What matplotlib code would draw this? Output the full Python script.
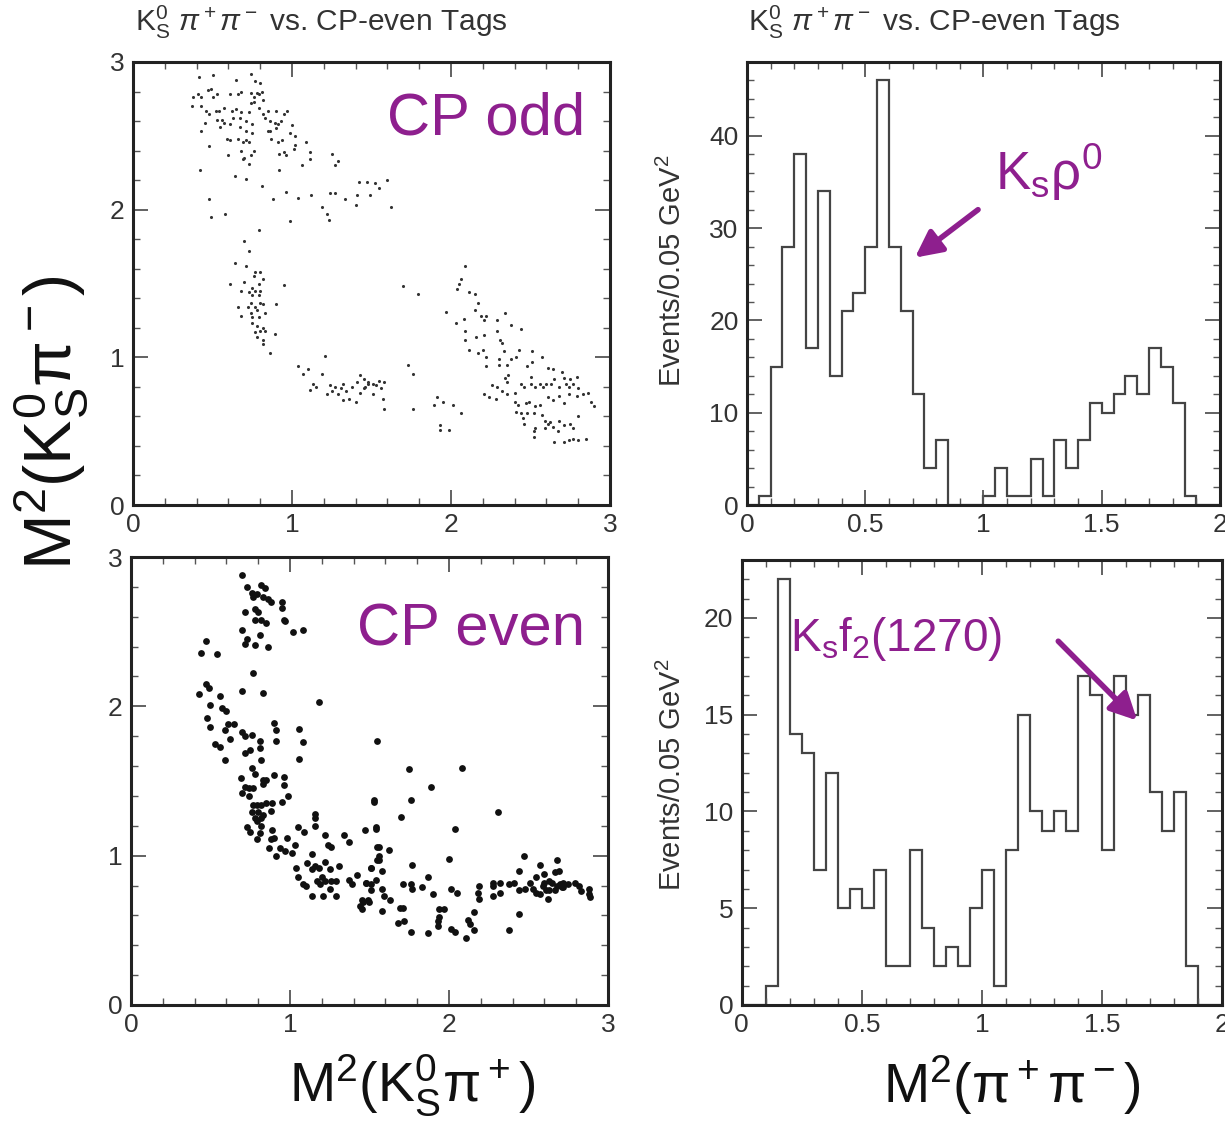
import numpy as np
import matplotlib
matplotlib.use('Agg')
import matplotlib.pyplot as plt
from matplotlib.ticker import MultipleLocator, FuncFormatter

plt.rcParams['font.family'] = ['Liberation Sans', 'DejaVu Sans']
plt.rcParams['mathtext.fontset'] = 'custom'
plt.rcParams['mathtext.rm'] = 'Liberation Sans'
plt.rcParams['mathtext.it'] = 'Liberation Sans:italic'
plt.rcParams['mathtext.bf'] = 'Liberation Sans:bold'

# ---- data ----
# CP odd tags: (M2(Ks pi+), M2(Ks pi-))
cp_odd = np.array([
    (0.415, 2.90), (0.505, 2.91), (0.65, 2.88), (0.74, 2.92), (0.77, 2.87), (0.80, 2.86),
    (0.375, 2.76), (0.41, 2.78), (0.43, 2.76), (0.47, 2.81), (0.49, 2.82), (0.50, 2.76),
    (0.53, 2.78), (0.61, 2.78), (0.66, 2.78), (0.68, 2.80), (0.74, 2.79), (0.76, 2.76),
    (0.78, 2.79), (0.79, 2.78), (0.81, 2.80), (0.82, 2.74), (0.76, 2.73), (0.37, 2.70),
    (0.43, 2.70), (0.46, 2.67), (0.48, 2.65), (0.52, 2.67), (0.54, 2.67), (0.57, 2.69),
    (0.62, 2.67), (0.65, 2.68), (0.68, 2.66), (0.73, 2.66), (0.74, 2.72), (0.79, 2.69),
    (0.82, 2.65), (0.85, 2.67), (0.90, 2.67), (0.95, 2.65), (0.97, 2.67), (0.45, 2.59),
    (0.53, 2.61), (0.56, 2.61), (0.57, 2.59), (0.55, 2.56), (0.63, 2.62), (0.67, 2.62),
    (0.71, 2.60), (0.75, 2.58), (0.83, 2.62), (0.86, 2.60), (0.89, 2.59), (0.91, 2.58),
    (0.93, 2.60), (1.00, 2.57), (0.86, 2.53), (0.90, 2.55), (0.43, 2.53), (0.61, 2.58),
    (0.67, 2.56), (0.71, 2.53), (0.75, 2.52), (0.85, 2.53), (0.99, 2.52), (1.02, 2.50),
    (0.48, 2.43), (0.59, 2.48), (0.61, 2.47), (0.66, 2.48), (0.69, 2.46), (0.71, 2.47),
    (0.73, 2.46), (0.87, 2.48), (0.91, 2.46), (0.94, 2.47), (1.09, 2.46), (1.01, 2.41),
    (1.02, 2.44), (0.60, 2.37), (0.68, 2.40), (0.70, 2.35), (0.74, 2.37), (0.76, 2.40),
    (0.69, 2.34), (0.73, 2.31), (0.92, 2.38), (0.96, 2.37), (0.95, 2.39), (1.11, 2.39),
    (1.11, 2.34), (1.06, 2.30), (1.25, 2.38), (1.29, 2.33), (1.27, 2.30), (0.92, 2.27),
    (0.42, 2.27), (0.64, 2.23), (0.71, 2.21),
    (0.48, 2.07), (0.49, 1.95), (0.58, 1.97), (0.81, 2.16), (0.88, 2.07), (0.96, 2.12),
    (0.99, 1.92), (1.04, 2.08), (1.12, 2.10), (1.19, 2.02), (1.22, 1.97), (1.23, 1.93),
    (1.24, 2.11), (1.27, 2.11), (1.33, 2.07), (1.40, 2.03), (1.41, 2.10), (1.42, 2.19),
    (1.47, 2.19), (1.49, 2.10), (1.52, 2.18), (1.55, 2.15), (1.60, 2.20), (1.62, 2.02),
    (0.79, 1.86), (0.70, 1.79), (0.73, 1.72), (0.64, 1.64), (0.71, 1.62), (0.77, 1.58),
    (0.80, 1.58), (0.76, 1.55), (0.82, 1.53), (0.61, 1.50), (0.70, 1.51), (0.75, 1.47),
    (0.79, 1.50), (0.95, 1.49), (0.68, 1.45), (0.73, 1.44), (0.77, 1.45), (0.80, 1.45),
    (0.75, 1.42), (0.79, 1.42), (0.74, 1.37), (0.80, 1.37), (0.66, 1.34), (0.72, 1.34),
    (0.77, 1.34), (0.82, 1.36), (0.90, 1.36), (0.74, 1.30), (0.78, 1.32), (0.83, 1.30),
    (0.68, 1.28), (0.75, 1.27), (0.79, 1.27), (0.75, 1.23), (0.78, 1.21), (0.82, 1.20),
    (0.77, 1.17), (0.80, 1.18), (0.83, 1.18), (0.89, 1.16), (0.78, 1.14), (0.82, 1.12),
    (0.82, 1.09), (0.86, 1.03),
    (1.21, 1.01), (1.04, 0.94), (1.07, 0.89), (1.10, 0.92), (1.19, 0.89), (1.11, 0.78),
    (1.13, 0.82), (1.15, 0.80), (1.22, 0.75), (1.24, 0.81), (1.25, 0.77), (1.27, 0.80),
    (1.29, 0.75), (1.31, 0.79), (1.32, 0.82), (1.32, 0.71), (1.34, 0.77), (1.36, 0.72),
    (1.38, 0.80), (1.41, 0.83), (1.40, 0.70), (1.43, 0.88), (1.43, 0.76), (1.45, 0.79),
    (1.48, 0.83), (1.51, 0.75), (1.53, 0.81), (1.45, 0.85), (1.48, 0.82), (1.51, 0.82),
    (1.55, 0.84), (1.58, 0.83), (1.56, 0.79), (1.57, 0.72), (1.58, 0.65), (1.46, 0.80),
    (1.70, 1.48), (1.79, 1.43), (1.73, 0.95), (1.76, 0.89), (1.76, 0.65), (1.89, 0.68),
    (1.91, 0.73), (1.95, 0.70), (1.93, 0.54), (1.93, 0.51), (1.99, 0.51), (2.01, 0.68),
    (2.06, 0.62),
    (2.09, 1.62), (2.06, 1.53), (2.05, 1.50), (2.04, 1.46), (2.11, 1.44), (2.15, 1.43),
    (1.97, 1.31), (2.17, 1.37), (2.03, 1.23), (2.08, 1.26), (2.15, 1.32), (2.19, 1.28),
    (2.22, 1.28), (2.21, 1.25), (2.29, 1.25), (2.34, 1.30), (2.38, 1.22), (2.44, 1.19),
    (2.09, 1.18), (2.09, 1.12), (2.16, 1.14), (2.21, 1.15), (2.29, 1.18), (2.31, 1.12),
    (2.32, 1.10), (2.11, 1.05), (2.17, 1.03), (2.20, 1.05), (2.22, 1.00), (2.22, 0.94),
    (2.30, 0.99), (2.33, 1.04), (2.30, 0.95), (2.35, 0.95), (2.38, 0.99), (2.41, 1.00),
    (2.43, 1.05), (2.48, 0.94), (2.51, 1.04), (2.51, 0.97), (2.57, 1.00), (2.61, 0.93),
    (2.64, 0.92), (2.70, 0.90), (2.71, 0.86), (2.75, 0.85), (2.79, 0.87), (2.26, 0.81),
    (2.29, 0.80), (2.34, 0.86), (2.36, 0.88), (2.35, 0.83), (2.32, 0.77), (2.35, 0.75),
    (2.21, 0.75), (2.24, 0.73), (2.28, 0.72), (2.40, 0.76), (2.44, 0.82), (2.46, 0.80),
    (2.50, 0.87), (2.50, 0.82), (2.53, 0.80), (2.56, 0.82), (2.58, 0.80), (2.60, 0.82),
    (2.63, 0.82), (2.65, 0.85), (2.68, 0.80), (2.72, 0.82), (2.74, 0.80), (2.77, 0.82),
    (2.80, 0.79), (2.74, 0.75), (2.79, 0.74), (2.83, 0.75), (2.86, 0.76), (2.88, 0.70),
    (2.90, 0.67), (2.40, 0.70), (2.42, 0.68), (2.47, 0.69), (2.49, 0.70), (2.53, 0.67),
    (2.56, 0.68), (2.61, 0.73), (2.64, 0.71), (2.68, 0.74), (2.71, 0.69), (2.41, 0.63),
    (2.44, 0.62), (2.48, 0.62), (2.52, 0.62), (2.45, 0.59), (2.46, 0.55), (2.52, 0.50),
    (2.52, 0.46), (2.53, 0.52), (2.57, 0.61), (2.59, 0.57), (2.61, 0.55), (2.59, 0.52),
    (2.62, 0.56), (2.64, 0.53), (2.67, 0.50), (2.68, 0.57), (2.71, 0.54), (2.75, 0.55),
    (2.77, 0.52), (2.65, 0.43), (2.71, 0.43), (2.74, 0.44), (2.77, 0.45), (2.80, 0.44),
    (2.85, 0.45), (2.80, 0.60),
])

# CP even tags
cp_even = np.array([
    (0.70, 2.88), (0.73, 2.80), (0.76, 2.76), (0.79, 2.75), (0.77, 2.73), (0.82, 2.81),
    (0.84, 2.79), (0.83, 2.73), (0.86, 2.72), (0.88, 2.70), (0.95, 2.70), (0.95, 2.66),
    (0.78, 2.65), (0.80, 2.63), (0.72, 2.63), (0.78, 2.58), (0.82, 2.58), (0.85, 2.56),
    (0.96, 2.58), (0.97, 2.57), (1.02, 2.50), (1.08, 2.51), (0.70, 2.51), (0.73, 2.45),
    (0.72, 2.42), (0.78, 2.41), (0.81, 2.48), (0.86, 2.40), (0.47, 2.44), (0.44, 2.36),
    (0.54, 2.35), (0.77, 2.22), (0.47, 2.15), (0.49, 2.12), (0.43, 2.08), (0.56, 2.07),
    (0.70, 2.10), (0.83, 2.09), (0.50, 2.01), (0.57, 1.99), (0.60, 1.97), (1.18, 2.03),
    (0.48, 1.92), (0.50, 1.86), (0.61, 1.88), (0.65, 1.88), (0.59, 1.84), (0.62, 1.78),
    (0.53, 1.75), (0.56, 1.73), (0.59, 1.64), (0.70, 1.83), (0.72, 1.80), (0.76, 1.81),
    (0.81, 1.77), (0.90, 1.89), (0.91, 1.84), (0.91, 1.77), (1.06, 1.85), (1.08, 1.76),
    (1.06, 1.65), (0.72, 1.69), (0.75, 1.71), (0.81, 1.72), (0.82, 1.64), (0.76, 1.59),
    (0.78, 1.55), (0.69, 1.52), (0.72, 1.46), (0.74, 1.45), (0.70, 1.42), (0.74, 1.40),
    (0.77, 1.45), (0.83, 1.51), (0.85, 1.51), (0.83, 1.48), (0.90, 1.54), (0.96, 1.53),
    (0.96, 1.47), (0.99, 1.40), (0.95, 1.36), (0.77, 1.34), (0.79, 1.34), (0.82, 1.34),
    (0.85, 1.35), (0.89, 1.35), (0.76, 1.29), (0.80, 1.29), (0.83, 1.27), (0.78, 1.25),
    (0.82, 1.25), (0.79, 1.23), (0.88, 1.30), (0.82, 1.20), (0.73, 1.19), (0.75, 1.16),
    (0.79, 1.11), (0.81, 1.15), (0.89, 1.17), (0.90, 1.12), (0.88, 1.11), (0.98, 1.12),
    (0.87, 1.05), (0.91, 1.00), (0.94, 1.05), (0.97, 1.03), (1.01, 1.02), (1.03, 1.07),
    (1.05, 1.19), (1.09, 1.16), (1.16, 1.28), (1.16, 1.25), (1.16, 1.20), (1.22, 1.14),
    (1.24, 1.07), (1.26, 1.06), (1.34, 1.14), (1.37, 1.09), (1.14, 1.01), (1.04, 0.92),
    (1.05, 0.86), (1.08, 0.81), (1.10, 0.80), (1.11, 0.95), (1.14, 0.91), (1.16, 0.93),
    (1.18, 0.92), (1.20, 0.86), (1.22, 0.96), (1.25, 0.91), (1.17, 0.83), (1.19, 0.81),
    (1.22, 0.83), (1.25, 0.78), (1.26, 0.83), (1.29, 0.83), (1.31, 0.93), (1.21, 0.73),
    (1.29, 0.73), (1.14, 0.73), (1.37, 0.84), (1.39, 0.81), (1.42, 0.87), (1.44, 0.66),
    (1.46, 0.69), (1.49, 0.70), (1.45, 0.64), (1.48, 0.82), (1.51, 0.81), (1.51, 0.92),
    (1.53, 1.37), (1.54, 1.19), (1.55, 1.06), (1.55, 0.97),
    (1.55, 1.77), (1.75, 1.58), (2.08, 1.59), (1.89, 1.46), (1.53, 1.36), (1.76, 1.37),
    (1.70, 1.26), (2.31, 1.29), (1.47, 1.17), (1.54, 1.18), (2.04, 1.18), (1.56, 1.06),
    (1.62, 1.04), (1.56, 1.00), (1.51, 0.92), (1.58, 0.90), (1.56, 0.97), (1.77, 0.94),
    (2.00, 0.98), (2.47, 1.00), (2.44, 0.90), (2.68, 0.97), (2.57, 0.94), (2.60, 0.88),
    (2.67, 0.89), (2.69, 0.90), (2.55, 0.86), (1.87, 0.86), (1.48, 0.82), (1.54, 0.84),
    (1.51, 0.77), (1.58, 0.78), (1.71, 0.81), (1.76, 0.81), (1.77, 0.78), (1.83, 0.79),
    (1.90, 0.74), (1.45, 0.70), (1.50, 0.69), (1.59, 0.73), (1.63, 0.70), (1.69, 0.65),
    (1.71, 0.65), (1.58, 0.63), (1.68, 0.55), (1.72, 0.56), (1.76, 0.49), (1.87, 0.48),
    (1.94, 0.64), (1.97, 0.64), (1.94, 0.59), (1.93, 0.56), (1.93, 0.53), (2.01, 0.78),
    (2.05, 0.75), (2.01, 0.51), (2.04, 0.49), (2.11, 0.45), (2.12, 0.57), (2.13, 0.54),
    (2.16, 0.50), (2.16, 0.62), (2.18, 0.75), (2.19, 0.71), (2.19, 0.80), (2.28, 0.82),
    (2.28, 0.80), (2.28, 0.73), (2.32, 0.75), (2.32, 0.82), (2.38, 0.50), (2.38, 0.81),
    (2.41, 0.82), (2.44, 0.77), (2.44, 0.61), (2.48, 0.78), (2.51, 0.82), (2.53, 0.78),
    (2.55, 0.75), (2.57, 0.74), (2.60, 0.82), (2.61, 0.77), (2.62, 0.71), (2.63, 0.77),
    (2.65, 0.82), (2.67, 0.77), (2.70, 0.81), (2.71, 0.79), (2.72, 0.79), (2.75, 0.81),
    (2.79, 0.82), (2.82, 0.80), (2.83, 0.76), (2.88, 0.78), (2.88, 0.74), (2.89, 0.72),
    (2.59, 0.80), (2.63, 0.83), (2.68, 0.80), (2.72, 0.82),
])

# M2(pi+ pi-) histograms, 0.05 GeV^2 bins from 0 to 2
bin_edges = np.linspace(0, 2, 41)
odd_counts = [0, 1, 15, 28, 38, 17, 34, 14, 21, 23,
              28, 46, 28, 21, 12, 4, 7, 0, 0, 0,
              1, 4, 1, 1, 5, 1, 7, 4, 7, 11,
              10, 12, 14, 12, 17, 15, 11, 1, 0, 0]
even_counts = [0, 0, 1, 22, 14, 13, 7, 12, 5, 6,
               5, 7, 2, 2, 8, 4, 2, 3, 2, 5,
               7, 1, 8, 15, 10, 9, 10, 9, 17, 16,
               8, 17, 15, 16, 11, 9, 11, 2, 0, 0]

purple = '#8E1F8E'
title = r'$\mathrm{K^0_S}\ \pi^+\pi^-$ vs. CP-even Tags'

fig = plt.figure(figsize=(12.25, 11.21), dpi=100)

ax_odd = fig.add_axes([0.1086, 0.5495, 0.3894, 0.3952])
ax_even = fig.add_axes([0.1069, 0.1035, 0.3894, 0.3996])
ax_h1 = fig.add_axes([0.6098, 0.5495, 0.3861, 0.3952])
ax_h2 = fig.add_axes([0.6055, 0.1035, 0.3921, 0.3970])


def style(ax, xmaj, xmin, ymaj, ymin):
    ax.xaxis.set_major_locator(MultipleLocator(xmaj))
    ax.xaxis.set_minor_locator(MultipleLocator(xmin))
    ax.yaxis.set_major_locator(MultipleLocator(ymaj))
    ax.yaxis.set_minor_locator(MultipleLocator(ymin))
    ax.tick_params(which='both', direction='in', top=True, right=True,
                   labelsize=19, labelcolor='#333333', color='#555555')
    ax.tick_params(which='major', length=11, width=1.3, pad=6)
    ax.tick_params(which='minor', length=5, width=1.0)
    fmt = FuncFormatter(lambda v, p: '%g' % v)
    ax.xaxis.set_major_formatter(fmt)
    ax.yaxis.set_major_formatter(fmt)
    for s in ax.spines.values():
        s.set_linewidth(2.2)
        s.set_color('#222222')


# scatter plots
ax_odd.scatter(cp_odd[:, 0], cp_odd[:, 1], s=5, color='#333333', linewidths=0)
ax_odd.set_xlim(0, 3)
ax_odd.set_ylim(0, 3)
style(ax_odd, 1, 0.2, 1, 0.2)
ax_odd.text(0.948, 0.872, 'CP odd', transform=ax_odd.transAxes, ha='right',
            va='center', fontsize=43, color=purple)

ax_even.scatter(cp_even[:, 0], cp_even[:, 1], s=24, color='#111111', linewidths=0)
ax_even.set_xlim(0, 3)
ax_even.set_ylim(0, 3)
style(ax_even, 1, 0.2, 1, 0.2)
ax_even.text(0.952, 0.838, 'CP even', transform=ax_even.transAxes, ha='right',
             va='center', fontsize=43, color=purple)

# histograms
ax_h1.stairs(odd_counts, bin_edges, color='#444444', linewidth=1.6, baseline=0)
ax_h1.set_xlim(0, 2)
ax_h1.set_ylim(0, 48)
style(ax_h1, 0.5, 0.1, 10, 2)
ax_h1.text(1.05, 36.0, r'K$_\mathrm{s}$ρ$^0$', fontsize=38, color=purple,
           ha='left', va='center')
ax_h1.annotate('', xy=(0.71, 26.8), xytext=(0.977, 32.0),
               arrowprops=dict(arrowstyle='-|>', color=purple, lw=4,
                               mutation_scale=40, shrinkA=0, shrinkB=0))

ax_h2.stairs(even_counts, bin_edges, color='#444444', linewidth=1.6, baseline=0)
ax_h2.set_xlim(0, 2)
ax_h2.set_ylim(0, 23)
style(ax_h2, 0.5, 0.1, 5, 1)
ax_h2.text(0.2, 18.9, r'$\mathrm{K_s f_2(1270)}$', fontsize=33, color=purple,
           ha='left', va='center')
ax_h2.annotate('', xy=(1.647, 14.7), xytext=(1.318, 18.8),
               arrowprops=dict(arrowstyle='-|>', color=purple, lw=4,
                               mutation_scale=40, shrinkA=0, shrinkB=0))

# titles and axis labels
fig.text(0.110, 0.980, title, fontsize=21.5, color='#333333', ha='left', va='center')
fig.text(0.6106, 0.980, title, fontsize=21.5, color='#333333', ha='left', va='center')

fig.text(0.042, 0.623, r'M$^2$(K$^0_\mathrm{S}$π$^-$)', fontsize=48, rotation=90,
         ha='center', va='center', color='#111111')
fig.text(0.336, 0.032, r'M$^2$(K$^0_\mathrm{S}$π$^+$)', fontsize=40,
         ha='center', va='center', color='#111111')
fig.text(0.826, 0.032, r'M$^2$(π$^+$π$^-$)', fontsize=40,
         ha='center', va='center', color='#111111')

fig.text(0.5486, 0.759, r'Events/0.05 GeV$^2$', fontsize=21, rotation=90,
         ha='center', va='center', color='#333333')
fig.text(0.5486, 0.309, r'Events/0.05 GeV$^2$', fontsize=21, rotation=90,
         ha='center', va='center', color='#333333')

fig.savefig('out.png', dpi=100)
